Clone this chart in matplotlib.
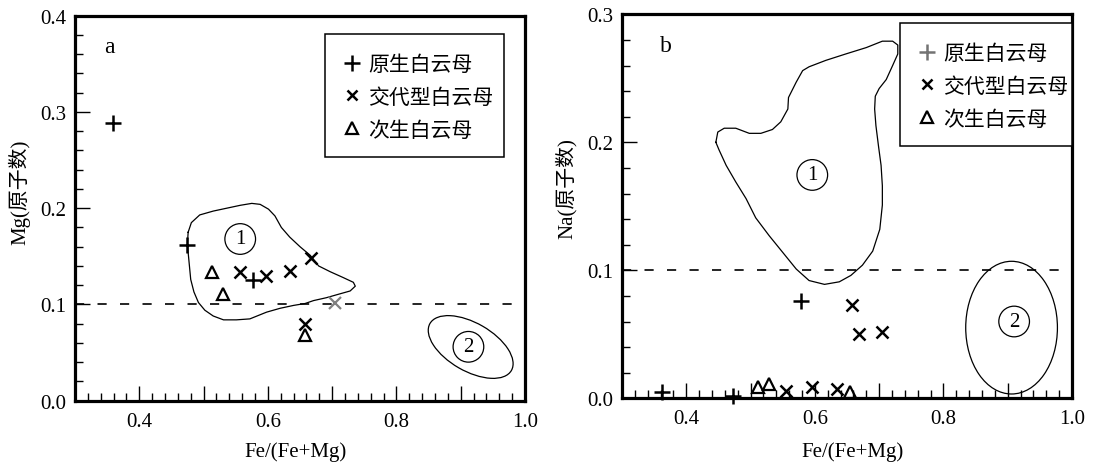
import matplotlib
matplotlib.use("Agg")
import matplotlib.pyplot as plt
from matplotlib.lines import Line2D
from matplotlib.patches import Ellipse, Rectangle
from matplotlib.transforms import ScaledTranslation
from matplotlib.ticker import MultipleLocator, FormatStrFormatter

plt.rcParams['font.family'] = ['Liberation Serif', 'Noto Sans CJK SC']

# ---- data ----
labels = ["原生白云母", "交代型白云母", "次生白云母"]
x_ticks = [0.4, 0.5, 0.6, 0.7, 0.8, 0.9, 1.0]
x_ticklabels = ["0.4", "", "0.6", "", "0.8", "", "1.0"]

# panel a: Mg vs Fe/(Fe+Mg)
prim_a_x = [0.359, 0.474, 0.577]
prim_a_y = [0.289, 0.162, 0.125]
repl_a_x = [0.557, 0.597, 0.634, 0.667, 0.658]
repl_a_y = [0.134, 0.130, 0.135, 0.148, 0.080]
sec_a_x = [0.513, 0.530, 0.657]
sec_a_y = [0.134, 0.111, 0.068]
faded_a_x = [0.704]
faded_a_y = [0.101]

# panel b: Na vs Fe/(Fe+Mg)
prim_b_x = [0.362, 0.472, 0.579]
prim_b_y = [0.005, 0.002, 0.076]
repl_b_x = [0.658, 0.669, 0.704, 0.555, 0.595, 0.635]
repl_b_y = [0.073, 0.050, 0.052, 0.006, 0.009, 0.007]
sec_b_x = [0.512, 0.528, 0.654]
sec_b_y = [0.009, 0.011, 0.005]

# field 1 outlines
field1_a_x = [0.476, 0.481, 0.494, 0.515, 0.536, 0.557, 0.575, 0.588, 0.601, 0.611,
              0.621, 0.634, 0.650, 0.666, 0.679, 0.697, 0.717, 0.733, 0.736, 0.728,
              0.712, 0.691, 0.671, 0.658, 0.640, 0.619, 0.598, 0.572, 0.551, 0.531,
              0.515, 0.502, 0.492, 0.485, 0.480, 0.478, 0.476, 0.475]
field1_a_y = [0.175, 0.185, 0.193, 0.197, 0.200, 0.203, 0.205, 0.204, 0.199, 0.192,
              0.180, 0.170, 0.160, 0.151, 0.140, 0.134, 0.128, 0.123, 0.119, 0.114,
              0.111, 0.107, 0.104, 0.101, 0.099, 0.096, 0.092, 0.085, 0.084, 0.084,
              0.088, 0.094, 0.102, 0.113, 0.126, 0.140, 0.154, 0.164]
field1_b_x = [0.446, 0.449, 0.459, 0.477, 0.498, 0.516, 0.534, 0.547, 0.558, 0.559,
              0.571, 0.581, 0.591, 0.617, 0.648, 0.680, 0.705, 0.721, 0.729, 0.729,
              0.721, 0.711, 0.700, 0.694, 0.693, 0.695, 0.699, 0.703, 0.705, 0.705,
              0.701, 0.690, 0.674, 0.656, 0.638, 0.615, 0.591, 0.571, 0.550, 0.529,
              0.508, 0.493, 0.477, 0.462, 0.451]
field1_b_y = [0.200, 0.208, 0.211, 0.211, 0.207, 0.207, 0.210, 0.216, 0.226, 0.235,
              0.247, 0.256, 0.259, 0.264, 0.269, 0.274, 0.279, 0.279, 0.276, 0.269,
              0.260, 0.249, 0.242, 0.236, 0.226, 0.213, 0.197, 0.182, 0.166, 0.151,
              0.132, 0.115, 0.104, 0.096, 0.091, 0.089, 0.092, 0.101, 0.114, 0.127,
              0.141, 0.156, 0.169, 0.182, 0.194]

# field 2 ellipses: centre (data), size in inches, tilt
field2_a = (0.9155, 0.0558, 0.94, 0.48, -30)
field2_b = (0.906, 0.0552, 0.917, 1.327, 0)

label_pos_a = {"a": (0.354, 0.368), "1": (0.557, 0.168), "2": (0.912, 0.056)}
label_pos_b = {"b": (0.368, 0.2755), "1": (0.596, 0.1745), "2": (0.910, 0.060)}

fig = plt.figure(figsize=(10.93, 4.64), dpi=100)
ax_a = fig.add_axes([75 / 1093, 62.3 / 464, 450 / 1093, 385 / 464])
ax_b = fig.add_axes([622 / 1093, 64.7 / 464, 450 / 1093, 384 / 464])

ms = dict(ls='none', color='k', clip_on=False, zorder=5)
FS = 15


def style_axis(ax, ymax, ylabel, ylab_y, xlab_x, xlab_y):
    ax.set_xlim(0.3, 1.0)
    ax.set_ylim(0, ymax)
    for s in ax.spines.values():
        s.set_linewidth(2.3)
    ax.set_xticks(x_ticks)
    ax.set_xticklabels(x_ticklabels)
    ax.xaxis.set_minor_locator(MultipleLocator(0.02))
    ax.yaxis.set_major_locator(MultipleLocator(0.1))
    ax.yaxis.set_minor_locator(MultipleLocator(0.02))
    ax.yaxis.set_major_formatter(FormatStrFormatter('%.1f'))
    ax.tick_params(which='both', direction='in', width=1.0, labelsize=FS)
    ax.tick_params(which='major', length=11)
    ax.tick_params(which='minor', length=5.5)
    ax.tick_params(axis='x', pad=8)
    ax.tick_params(axis='y', pad=6)
    ax.axhline(0.1, color='k', lw=1.2, ls=(0, (5.5, 8)), zorder=1)
    ax.set_xlabel("Fe/(Fe+Mg)", fontsize=FS)
    ax.set_ylabel(ylabel, fontsize=FS)
    ax.xaxis.set_label_coords(xlab_x, xlab_y)
    ax.yaxis.set_label_coords(-0.10, ylab_y)


def add_ellipse(ax, spec):
    cx, cy, w, h, ang = spec
    tr = fig.dpi_scale_trans + ScaledTranslation(cx, cy, ax.transData)
    ax.add_patch(Ellipse((0, 0), w, h, angle=ang, transform=tr, fill=False, lw=0.9, color='k'))


def add_labels(ax, pos, panel):
    x, y = pos[panel]
    ax.text(x, y, panel, fontsize=17, ha='center', va='center')
    for k in ("1", "2"):
        x, y = pos[k]
        ax.text(x, y, k, fontsize=FS, ha='center', va='center',
                bbox=dict(boxstyle='circle,pad=0.28', fc='none', ec='k', lw=0.9))


def add_legend(ax, box, plus_color):
    x0, y0, x1, y1 = box  # frame in axes fraction
    ax.add_patch(Rectangle((x0, y0), x1 - x0, y1 - y0, transform=ax.transAxes,
                           fill=True, fc='white', ec='k', lw=1.1, zorder=6, clip_on=False))
    h = [Line2D([], [], ls='none', marker='+', color=plus_color, ms=11, mew=1.8),
         Line2D([], [], ls='none', marker='x', color='k', ms=7, mew=1.8),
         Line2D([], [], ls='none', marker='^', mfc='none', mec='k', ms=8, mew=1.6)]
    leg = ax.legend(h, labels, loc='upper left', bbox_to_anchor=(x0, y1), frameon=False,
                    prop=dict(family='Noto Sans CJK SC', size=FS, weight='medium'),
                    borderpad=0.9, handlelength=0.8, handletextpad=0.38,
                    labelspacing=0.52, borderaxespad=0)
    leg.set_zorder(7)


# panel a
style_axis(ax_a, 0.4, "Mg(原子数)", 0.545, 0.489, -0.105)
ax_a.plot(field1_a_x + field1_a_x[:1], field1_a_y + field1_a_y[:1], color='k', lw=0.9)
add_ellipse(ax_a, field2_a)
ax_a.plot(prim_a_x, prim_a_y, marker='+', ms=11, mew=1.8, **ms)
ax_a.plot(repl_a_x, repl_a_y, marker='x', ms=8, mew=1.8, **ms)
ax_a.plot(sec_a_x, sec_a_y, marker='^', ms=8, mew=1.6, mfc='none', ls='none', color='k',
          clip_on=False, zorder=5)
ax_a.plot(faded_a_x, faded_a_y, marker='x', ms=9, mew=1.6, ls='none', color='0.5', zorder=5)
add_labels(ax_a, label_pos_a, "a")
add_legend(ax_a, (0.556, 0.633, 0.953, 0.952), 'k')

# panel b
style_axis(ax_b, 0.3, "Na(原子数)", 0.548, 0.512, -0.111)
ax_b.plot(field1_b_x + field1_b_x[:1], field1_b_y + field1_b_y[:1], color='k', lw=0.9)
add_ellipse(ax_b, field2_b)
ax_b.plot(prim_b_x, prim_b_y, marker='+', ms=11, mew=1.8, **ms)
ax_b.plot(repl_b_x, repl_b_y, marker='x', ms=8, mew=1.8, **ms)
ax_b.plot(sec_b_x, sec_b_y, marker='^', ms=8, mew=1.6, mfc='none', ls='none', color='k',
          clip_on=False, zorder=5)
add_labels(ax_b, label_pos_b, "b")
add_legend(ax_b, (0.618, 0.657, 1.0, 0.977), '0.45')

fig.savefig("out.png", dpi=100)
